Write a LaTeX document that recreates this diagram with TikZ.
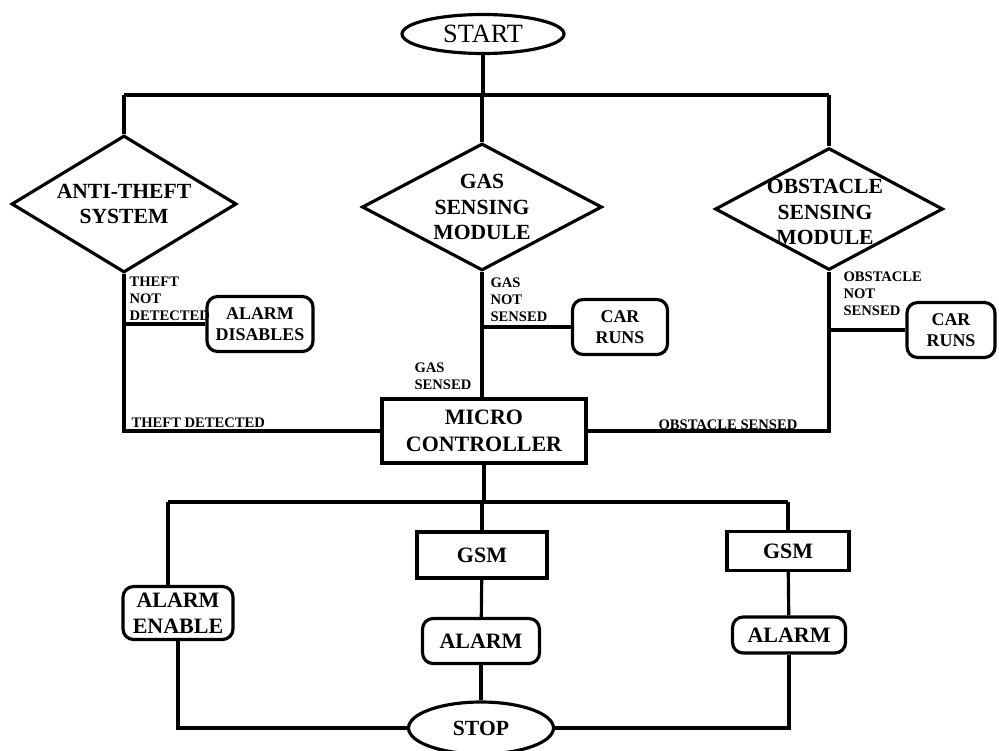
\documentclass[tikz,border=0pt]{standalone}
\usepackage{fontspec}
\setmainfont{Liberation Serif}
\usepackage{tikz}
\usetikzlibrary{calc,shapes}

\begin{document}
\begin{tikzpicture}[x=0.02cm,y=-0.02cm,line width=1.8pt,
	term/.style={ellipse,draw,inner sep=0pt},
	decision/.style={diamond,draw,inner sep=0pt},
	proc/.style={rectangle,draw,inner sep=2pt,align=center,font=\bfseries\fontsize{12.5}{15}\selectfont},
	soft/.style={proc,rounded corners=6pt},
	small/.style={font=\bfseries\fontsize{10.2}{11.8}\selectfont},
	headtxt/.style={align=center,inner sep=0pt,font=\bfseries\fontsize{12.3}{14.6}\selectfont},
	cond/.style={inner sep=0pt,align=left,font=\bfseries\fontsize{8.3}{9.8}\selectfont}]
			\useasboundingbox (0,0) rectangle (999,750);
			\node (start) [term,minimum width=3.24cm,minimum height=0.78cm] at (483,34) {};
			\node (startT) [font=\fontsize{15}{18}\selectfont] at (start) {START};
			\node (theft) [decision,minimum width=4.5cm,minimum height=2.74cm] at (124,204) {};
			\node (theftT) [headtxt] at (theft) {ANTI-THEFT\\SYSTEM};
			\node (gas) [decision,minimum width=4.8cm,minimum height=2.54cm] at (482,207) {};
			\node (gasT) [headtxt] at (gas) {GAS\\SENSING\\MODULE};
			\node (obst) [decision,minimum width=4.56cm,minimum height=2.44cm] at (829,209) {};
			\node (obstT) [headtxt] at ($(obst)+(-4,3)$) {OBSTACLE\\SENSING\\MODULE};
			\node (micro) [proc,minimum width=4.08cm,minimum height=1.28cm] at (484,431) {MICRO\\CONTROLLER};
			\node (disab) [soft,small,minimum width=2.12cm,minimum height=1.1cm] at (260,324) {ALARM\\DISABLES};
			\node (car1) [soft,small,minimum width=1.9cm,minimum height=1.1cm] at (620,327) {CAR\\RUNS};
			\node (car2) [soft,small,minimum width=1.76cm,minimum height=1.1cm] at (951,330) {CAR\\RUNS};
			\node (enable) [soft,minimum width=2.2cm,minimum height=1.06cm] at (178,613) {ALARM\\ENABLE};
			\node (gsm1) [proc,minimum width=2.6cm,minimum height=0.92cm] at (482,555) {GSM};
			\node (alarm1) [soft,minimum width=2.34cm,minimum height=0.9cm] at (481,641) {ALARM};
			\node (gsm2) [proc,minimum width=2.44cm,minimum height=0.78cm] at (788,551) {GSM};
			\node (alarm2) [soft,minimum width=2.26cm,minimum height=0.72cm] at (789,635) {ALARM};
			\node (stop) [term,minimum width=2.9cm,minimum height=1.04cm] at (481,728) {};
			\node (stopT) [font=\bfseries\fontsize{12.3}{14}\selectfont] at (stop) {STOP};
			\coordinate (topL) at (124,95);
			\coordinate (topR) at (829,95);
			\coordinate (botL) at (168,502);
			\coordinate (botR) at (788,502);
			\draw (topL) -- (topR);
			\draw (start) -- (start |- topL);
			\draw (topL) -- (theft);
			\draw (gas |- topL) -- (gas);
			\draw (topR) -- (obst);
			\draw (theft.south) |- (micro.west);
			\draw (theft.south |- disab) -- (disab);
			\draw (gas.south) -- (gas.south |- micro.north);
			\draw (gas.south |- car1) -- (car1);
			\draw (obst.south) |- (micro.east);
			\draw (obst.south |- car2) -- (car2);
			\draw (micro.south) -- (micro.south |- botL);
			\draw (botL) -- (botR);
			\draw (botL) -- (botL |- enable.north);
			\draw (enable.south) |- (stop.west);
			\draw (gsm1.north |- botL) -- (gsm1.north);
			\draw (gsm1) -- (alarm1);
			\draw (alarm1) -- (stop);
			\draw (botR) -- (gsm2);
			\draw (gsm2) -- (alarm2);
			\draw (alarm2.south) |- (stop.east);
			\node (tnd) [cond,anchor=north west] at (128,275) {THEFT\\NOT\\DETECTED};
			\node (td) [cond,anchor=west] at (130,423) {THEFT DETECTED};
			\node (gns) [cond,anchor=north west] at (489,276) {GAS\\NOT\\SENSED};
			\node (gs) [cond,anchor=north west] at (413,361) {GAS\\SENSED};
			\node (ons) [cond,anchor=north west] at (842,270) {OBSTACLE\\NOT\\SENSED};
			\node (os) [cond,anchor=west] at (657,425) {OBSTACLE SENSED};
\end{tikzpicture}
\end{document}
